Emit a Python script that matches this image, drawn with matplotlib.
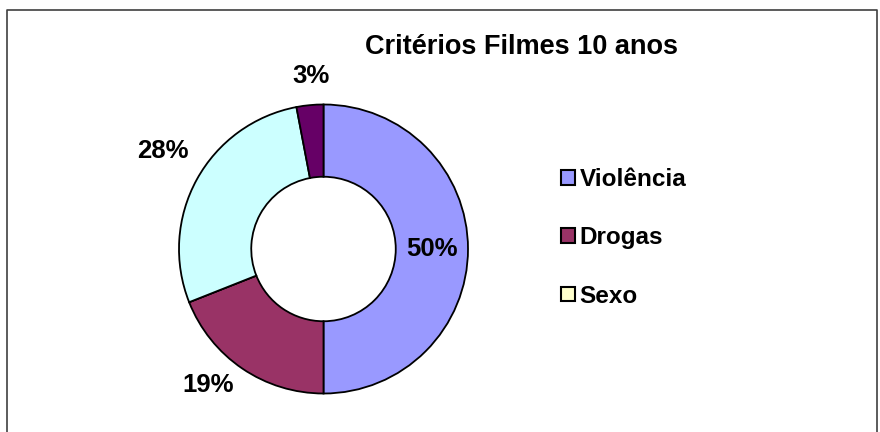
import numpy as np
import matplotlib
matplotlib.use("Agg")
import matplotlib.pyplot as plt
from matplotlib.lines import Line2D

plt.rcParams['font.family'] = ['Liberation Sans', 'DejaVu Sans']

# Chart data
title = "Critérios Filmes 10 anos"
categories = ["Violência", "Drogas", "Sexo", "Outros", "Outros 2"]
values = [50, 19, 0, 28, 3]
colors = ["#9999FF", "#993366", "#FFFFCC", "#CCFFFF", "#660066"]
legend_count = 3

fig = plt.figure(figsize=(8.8, 4.32), dpi=100)

# pie centre / radius in pixels
cx, cy, R = 323.5, 432 - 249, 144.5
lim = 1.6
ax = fig.add_axes([(cx - lim * R) / 880, (cy - lim * R) / 432,
                   2 * lim * R / 880, 2 * lim * R / 432])

wedges, _ = ax.pie(values, colors=colors, startangle=90, counterclock=False,
                   radius=1, wedgeprops=dict(width=0.5, edgecolor='black', linewidth=1.3))
ax.set_xlim(-lim, lim)
ax.set_ylim(-lim, lim)
ax.set_aspect('equal')
ax.axis('off')

# percentage labels: radial distance and small angle nudge (degrees)
dist = [0.75, 1.235, None, 1.30, 1.20]
nudge = [0, -6, 0, -2.7, -1.4]
total = sum(values)
for w, v, d, n in zip(wedges, values, dist, nudge):
    if v == 0 or d is None:
        continue
    ang = np.deg2rad((w.theta1 + w.theta2) / 2 + n)
    ax.text(d * np.cos(ang), d * np.sin(ang), f"{round(100 * v / total)}%",
            ha='center', va='center', fontsize=18.5, fontweight='bold', clip_on=False)

fig.text(521.5 / 880, 1 - 47 / 432, title, ha='center', va='center',
         fontsize=19.5, fontweight='bold')

handles = [plt.Rectangle((0, 0), 1, 1, facecolor=c, edgecolor='black', linewidth=1.5)
           for c in colors[:legend_count]]
fig.legend(handles, categories[:legend_count], loc='upper left',
           bbox_to_anchor=(549 / 880, 1 - 156 / 432), frameon=False,
           prop=dict(size=17.5, weight='bold'), handlelength=0.55, handleheight=0.55,
           handletextpad=0.2, labelspacing=1.45, borderpad=0)

# chart frame
fig.add_artist(Line2D([7 / 880, 7 / 880, 877 / 880, 877 / 880],
                      [0, 1 - 10 / 432, 1 - 10 / 432, 0],
                      transform=fig.transFigure, color='#404040', linewidth=1.2))

fig.savefig("out.png", dpi=100)
